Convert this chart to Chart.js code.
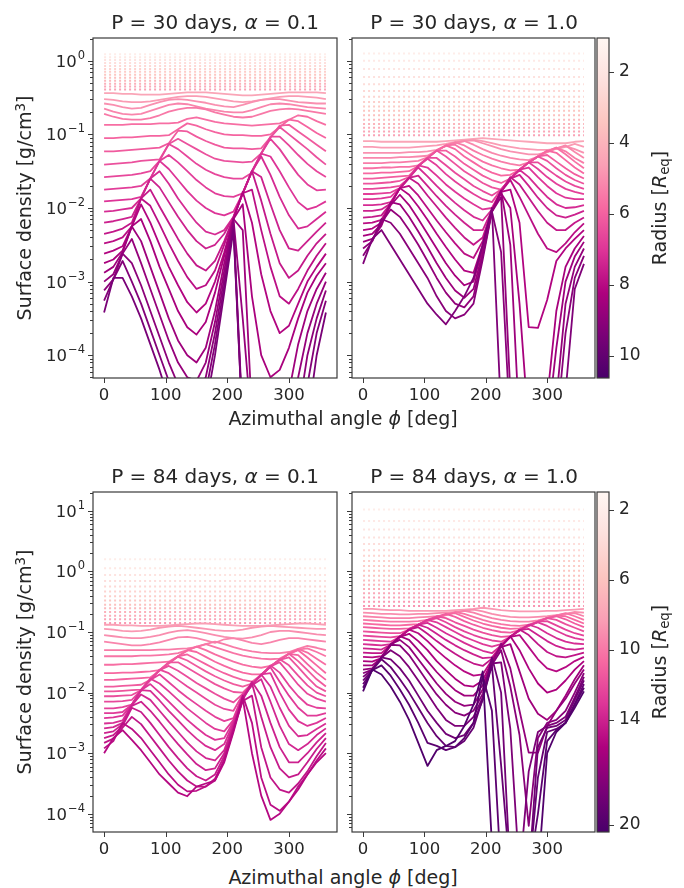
<!DOCTYPE html>
<html>
<head>
<meta charset="utf-8">
<script src="https://cdn.jsdelivr.net/npm/chart.js@4.4.1/dist/chart.umd.min.js"></script>
<style>
body { margin: 0; background: #fff; width: 684px; height: 888px; position: relative; overflow: hidden;
       font-family: 'DejaVu Sans', sans-serif; color: #262626; }
canvas { position: absolute; }
.t { position: absolute; white-space: nowrap; line-height: 1; transform: translate(-50%, -50%); }
.r { transform: translate(-50%, -50%) rotate(-90deg); }
sup { font-size: 0.7em; vertical-align: 0.45em; line-height: 0; }
sub { font-size: 0.7em; vertical-align: -0.25em; line-height: 0; }
</style>
</head>
<body>
<canvas id="tl" width="340" height="410" style="left:0;top:0"></canvas>
<canvas id="tr" width="258" height="410" style="left:340px;top:0"></canvas>
<canvas id="cbt" width="94" height="410" style="left:590px;top:0"></canvas>
<canvas id="bl" width="340" height="410" style="left:0;top:454px"></canvas>
<canvas id="br" width="258" height="410" style="left:340px;top:454px"></canvas>
<canvas id="cbb" width="94" height="410" style="left:590px;top:454px"></canvas>

<div class="t" style="left:215px;top:22px;font-size:20px">P = 30 days, <i>α</i> = 0.1</div>
<div class="t" style="left:474px;top:22px;font-size:20px">P = 30 days, <i>α</i> = 1.0</div>
<div class="t" style="left:215px;top:476px;font-size:20px">P = 84 days, <i>α</i> = 0.1</div>
<div class="t" style="left:474px;top:476px;font-size:20px">P = 84 days, <i>α</i> = 1.0</div>
<div class="t r" style="left:24px;top:208px;font-size:19px">Surface density [g/cm<sup>3</sup>]</div>
<div class="t r" style="left:24px;top:662px;font-size:19px">Surface density [g/cm<sup>3</sup>]</div>
<div class="t" style="left:343px;top:418px;font-size:19px">Azimuthal angle <i>ϕ</i> [deg]</div>
<div class="t" style="left:343px;top:877px;font-size:19px">Azimuthal angle <i>ϕ</i> [deg]</div>
<div class="t r" style="left:659px;top:208px;font-size:19px">Radius [<i>R</i><sub>eq</sub>]</div>
<div class="t r" style="left:659px;top:662px;font-size:19px">Radius [<i>R</i><sub>eq</sub>]</div>

<script>
// azimuth samples (deg)
var phi = [0,15,30,45,60,75,90,105,120,135,150,165,180,195,210,225,240,255,270,285,300,315,330,345,360];
var xTicks = [0,100,200,300];

// colour scale ranges (radius, R_eq) and their ticks
var cbTopRange = [1.04, 10.62];
var cbTopTicks = [2,4,6,8,10];
var cbBottomRange = [0.97, 20.4];
var cbBottomTicks = [2,6,10,14,20];

// ---- P = 30 d, alpha = 0.1  (log10 surface density) ----
var tlDotLevels = [0.09,0.05,0.01,-0.03,-0.07,-0.11,-0.15,-0.19,-0.23,-0.27,-0.31,-0.35,-0.39];
var tlDotRadius = [1.2,1.45,1.7,1.95,2.2,2.45,2.7,2.95,3.2,3.45,3.7,3.95,4.2];
var tlLines = [
  [-0.44,-0.44,-0.45,-0.45,-0.46,-0.46,-0.46,-0.45,-0.44,-0.43,-0.43,-0.43,-0.44,-0.45,-0.46,-0.47,-0.47,-0.46,-0.45,-0.44,-0.43,-0.43,-0.43,-0.43,-0.44],
  [-0.52,-0.53,-0.55,-0.56,-0.56,-0.55,-0.53,-0.51,-0.49,-0.48,-0.48,-0.49,-0.51,-0.53,-0.55,-0.56,-0.55,-0.53,-0.51,-0.49,-0.48,-0.48,-0.49,-0.5,-0.52],
  [-0.58,-0.6,-0.63,-0.65,-0.64,-0.6,-0.56,-0.53,-0.52,-0.53,-0.55,-0.57,-0.6,-0.62,-0.63,-0.6,-0.56,-0.53,-0.52,-0.52,-0.54,-0.56,-0.57,-0.58,-0.58],
  [-0.65,-0.69,-0.72,-0.73,-0.72,-0.68,-0.64,-0.6,-0.58,-0.59,-0.62,-0.65,-0.67,-0.69,-0.7,-0.7,-0.67,-0.63,-0.59,-0.58,-0.59,-0.61,-0.63,-0.64,-0.65],
  [-0.72,-0.76,-0.79,-0.8,-0.8,-0.78,-0.74,-0.69,-0.66,-0.64,-0.64,-0.66,-0.7,-0.73,-0.76,-0.77,-0.76,-0.72,-0.68,-0.66,-0.65,-0.66,-0.68,-0.7,-0.72],
  [-0.87,-0.87,-0.87,-0.86,-0.86,-0.86,-0.85,-0.85,-0.84,-0.79,-0.77,-0.8,-0.83,-0.85,-0.86,-0.87,-0.88,-0.87,-0.86,-0.85,-0.8,-0.74,-0.76,-0.82,-0.87],
  [-1.05,-1.05,-1.04,-1.04,-1.03,-1.02,-1.02,-1.01,-0.93,-0.85,-0.88,-0.93,-0.97,-1.0,-1.01,-1.01,-1.02,-1.02,-1.0,-0.9,-0.8,-0.82,-0.9,-0.98,-1.05],
  [-1.23,-1.23,-1.22,-1.21,-1.2,-1.19,-1.18,-1.12,-0.95,-0.96,-1.03,-1.09,-1.14,-1.18,-1.19,-1.19,-1.2,-1.19,-1.04,-0.88,-0.87,-0.96,-1.05,-1.14,-1.23],
  [-1.41,-1.4,-1.39,-1.38,-1.36,-1.35,-1.34,-1.13,-1.06,-1.13,-1.2,-1.27,-1.33,-1.36,-1.37,-1.38,-1.37,-1.26,-1.04,-0.9,-1.0,-1.1,-1.2,-1.31,-1.41],
  [-1.58,-1.57,-1.56,-1.55,-1.53,-1.5,-1.36,-1.13,-1.2,-1.3,-1.4,-1.48,-1.54,-1.58,-1.6,-1.6,-1.52,-1.26,-1.03,-1.03,-1.15,-1.28,-1.4,-1.5,-1.58],
  [-1.75,-1.74,-1.73,-1.72,-1.7,-1.6,-1.36,-1.28,-1.38,-1.5,-1.62,-1.72,-1.8,-1.84,-1.85,-1.8,-1.5,-1.26,-1.06,-1.2,-1.38,-1.55,-1.68,-1.76,-1.75],
  [-1.91,-1.9,-1.89,-1.88,-1.85,-1.6,-1.36,-1.47,-1.62,-1.77,-1.9,-2.0,-2.07,-2.1,-2.05,-1.8,-1.5,-1.26,-1.3,-1.5,-1.72,-1.92,-2.02,-1.98,-1.91],
  [-2.05,-2.04,-2.02,-2.0,-1.87,-1.6,-1.5,-1.67,-1.87,-2.04,-2.2,-2.32,-2.36,-2.3,-2.12,-1.8,-1.5,-1.3,-1.55,-1.85,-2.1,-2.28,-2.25,-2.15,-2.05],
  [-2.2,-2.18,-2.15,-2.12,-1.87,-1.6,-1.72,-1.92,-2.12,-2.3,-2.45,-2.55,-2.5,-2.35,-2.12,-1.8,-1.5,-1.58,-1.95,-2.3,-2.55,-2.58,-2.45,-2.32,-2.2],
  [-2.35,-2.32,-2.28,-2.2,-1.87,-1.75,-1.98,-2.2,-2.42,-2.62,-2.78,-2.85,-2.72,-2.45,-2.13,-1.8,-1.5,-1.9,-2.35,-2.75,-2.95,-2.85,-2.65,-2.48,-2.35],
  [-2.48,-2.45,-2.4,-2.25,-1.87,-1.97,-2.22,-2.48,-2.72,-2.94,-3.1,-3.05,-2.85,-2.5,-2.14,-1.8,-1.75,-2.3,-2.8,-3.2,-3.3,-3.1,-2.85,-2.65,-2.48],
  [-2.62,-2.58,-2.52,-2.25,-1.95,-2.2,-2.5,-2.8,-3.05,-3.28,-3.42,-3.3,-3.0,-2.6,-2.15,-1.78,-2.2,-2.9,-3.4,-3.7,-3.6,-3.3,-3.0,-2.8,-2.62],
  [-2.75,-2.7,-2.58,-2.25,-2.15,-2.45,-2.8,-3.1,-3.4,-3.62,-3.72,-3.55,-3.15,-2.65,-2.15,-1.95,-3.2,-4.0,-4.3,-4.2,-3.9,-3.5,-3.15,-2.92,-2.75],
  [-2.88,-2.8,-2.6,-2.25,-2.45,-2.8,-3.15,-3.5,-3.8,-4.0,-4.1,-3.9,-3.4,-2.75,-2.15,-2.3,-4.8,-5,-5,-5,-4.5,-3.85,-3.4,-3.1,-2.88],
  [-3.0,-2.9,-2.62,-2.42,-2.75,-3.1,-3.45,-3.8,-4.1,-4.3,-4.35,-4.1,-3.55,-2.85,-2.15,-3.5,-5,-5,-5,-5,-5,-4.3,-3.7,-3.3,-3.0],
  [-3.12,-2.97,-2.62,-2.75,-3.05,-3.4,-3.75,-4.1,-4.4,-4.6,-4.5,-4.3,-3.7,-2.95,-2.2,-4.9,-5,-5,-5,-5,-5,-4.8,-4.0,-3.5,-3.12],
  [-3.26,-2.97,-2.72,-3.0,-3.3,-3.65,-4.0,-4.35,-4.7,-4.9,-4.8,-4.5,-3.85,-3.05,-2.25,-5,-5,-5,-5,-5,-5,-5,-4.4,-3.7,-3.26],
  [-3.42,-2.95,-2.95,-3.2,-3.5,-3.85,-4.2,-4.6,-5,-5,-5,-4.7,-4.0,-3.15,-2.3,-5,-5,-5,-5,-5,-5,-5,-4.9,-4.0,-3.42]
];
var tlLineRadius = [4.45,4.7,4.95,5.2,5.45,5.7,5.92,6.14,6.36,6.58,6.8,7.02,7.24,7.46,7.68,7.9,8.12,8.34,8.56,8.78,9.0,9.22,9.44];

// ---- P = 30 d, alpha = 1.0 ----
var trDotLevels = [0.1,0.0,-0.11,-0.22,-0.32,-0.41,-0.49,-0.56,-0.62,-0.68,-0.74,-0.8,-0.86,-0.91,-0.96,-1.01];
var trDotRadius = [1.2,1.4,1.6,1.8,2.0,2.2,2.4,2.6,2.8,3.0,3.2,3.4,3.6,3.8,4.0,4.2];
var trLines = [
  [-1.09,-1.09,-1.1,-1.1,-1.1,-1.1,-1.1,-1.1,-1.1,-1.09,-1.08,-1.07,-1.06,-1.05,-1.06,-1.07,-1.08,-1.09,-1.1,-1.11,-1.12,-1.12,-1.12,-1.1,-1.09],
  [-1.17,-1.17,-1.18,-1.18,-1.18,-1.18,-1.17,-1.16,-1.15,-1.13,-1.1,-1.08,-1.07,-1.09,-1.12,-1.15,-1.17,-1.19,-1.2,-1.21,-1.21,-1.2,-1.17,-1.13,-1.17],
  [-1.25,-1.25,-1.25,-1.25,-1.25,-1.24,-1.24,-1.23,-1.21,-1.16,-1.12,-1.09,-1.08,-1.12,-1.16,-1.2,-1.23,-1.25,-1.27,-1.27,-1.24,-1.19,-1.16,-1.2,-1.25],
  [-1.32,-1.32,-1.32,-1.32,-1.31,-1.31,-1.3,-1.29,-1.22,-1.15,-1.11,-1.09,-1.14,-1.2,-1.25,-1.29,-1.32,-1.34,-1.35,-1.3,-1.24,-1.19,-1.15,-1.24,-1.32],
  [-1.39,-1.39,-1.39,-1.38,-1.38,-1.37,-1.36,-1.31,-1.22,-1.15,-1.11,-1.15,-1.22,-1.28,-1.33,-1.37,-1.4,-1.42,-1.38,-1.3,-1.23,-1.18,-1.23,-1.32,-1.39],
  [-1.46,-1.46,-1.45,-1.45,-1.44,-1.44,-1.42,-1.32,-1.22,-1.15,-1.14,-1.22,-1.3,-1.37,-1.42,-1.46,-1.49,-1.48,-1.38,-1.3,-1.23,-1.18,-1.27,-1.37,-1.46],
  [-1.53,-1.53,-1.52,-1.52,-1.51,-1.5,-1.43,-1.32,-1.22,-1.15,-1.2,-1.3,-1.38,-1.46,-1.52,-1.56,-1.55,-1.48,-1.38,-1.3,-1.22,-1.25,-1.35,-1.45,-1.53],
  [-1.6,-1.6,-1.59,-1.58,-1.57,-1.56,-1.43,-1.32,-1.22,-1.22,-1.3,-1.4,-1.48,-1.56,-1.62,-1.66,-1.6,-1.48,-1.38,-1.3,-1.28,-1.37,-1.46,-1.54,-1.6],
  [-1.67,-1.67,-1.66,-1.65,-1.63,-1.58,-1.43,-1.32,-1.22,-1.3,-1.4,-1.5,-1.58,-1.66,-1.72,-1.75,-1.6,-1.48,-1.38,-1.3,-1.36,-1.46,-1.55,-1.62,-1.67],
  [-1.74,-1.74,-1.73,-1.72,-1.7,-1.59,-1.43,-1.32,-1.32,-1.42,-1.52,-1.61,-1.7,-1.77,-1.83,-1.75,-1.6,-1.48,-1.38,-1.38,-1.47,-1.56,-1.64,-1.7,-1.74],
  [-1.81,-1.81,-1.8,-1.79,-1.73,-1.59,-1.43,-1.33,-1.42,-1.54,-1.64,-1.73,-1.81,-1.88,-1.92,-1.75,-1.6,-1.48,-1.38,-1.47,-1.58,-1.67,-1.74,-1.78,-1.81],
  [-1.88,-1.88,-1.87,-1.85,-1.73,-1.59,-1.42,-1.45,-1.56,-1.68,-1.78,-1.87,-1.95,-2.02,-2.0,-1.76,-1.6,-1.48,-1.45,-1.58,-1.7,-1.8,-1.86,-1.88,-1.88],
  [-1.96,-1.96,-1.95,-1.92,-1.73,-1.59,-1.45,-1.57,-1.7,-1.82,-1.93,-2.03,-2.12,-2.17,-2.02,-1.77,-1.6,-1.48,-1.58,-1.72,-1.85,-1.95,-2.0,-1.99,-1.96],
  [-2.04,-2.04,-2.02,-1.94,-1.73,-1.59,-1.56,-1.7,-1.84,-1.97,-2.09,-2.2,-2.3,-2.3,-2.03,-1.77,-1.6,-1.55,-1.7,-1.86,-2.0,-2.1,-2.13,-2.09,-2.04],
  [-2.13,-2.12,-2.1,-1.94,-1.73,-1.59,-1.67,-1.83,-1.98,-2.13,-2.27,-2.4,-2.5,-2.4,-2.03,-1.78,-1.58,-1.68,-1.86,-2.04,-2.2,-2.3,-2.3,-2.2,-2.13],
  [-2.21,-2.2,-2.16,-1.94,-1.73,-1.7,-1.83,-2.0,-2.17,-2.33,-2.48,-2.62,-2.68,-2.45,-2.03,-1.78,-1.62,-1.85,-2.1,-2.35,-2.55,-2.6,-2.48,-2.33,-2.21],
  [-2.3,-2.28,-2.2,-1.95,-1.73,-1.82,-1.98,-2.16,-2.35,-2.53,-2.7,-2.85,-2.88,-2.5,-2.04,-1.78,-1.75,-2.2,-3.62,-3.63,-3.25,-2.72,-2.55,-2.42,-2.3],
  [-2.38,-2.35,-2.22,-1.96,-1.82,-1.96,-2.15,-2.35,-2.55,-2.75,-2.92,-3.05,-3.0,-2.55,-2.05,-1.8,-2.0,-3.3,-5,-5,-4.6,-3.4,-2.8,-2.55,-2.38],
  [-2.46,-2.42,-2.24,-1.92,-1.95,-2.12,-2.32,-2.53,-2.75,-2.95,-3.12,-3.22,-3.1,-2.6,-2.05,-1.76,-2.5,-5,-5,-5,-5,-3.9,-3.0,-2.66,-2.46],
  [-2.55,-2.45,-2.2,-2.02,-2.12,-2.3,-2.5,-2.72,-2.95,-3.15,-3.3,-3.35,-3.2,-2.65,-2.05,-1.85,-4.5,-5,-5,-5,-5,-4.6,-3.3,-2.8,-2.55],
  [-2.65,-2.45,-2.15,-2.2,-2.35,-2.55,-2.75,-2.95,-3.2,-3.4,-3.5,-3.45,-3.3,-2.7,-2.05,-2.6,-5,-5,-5,-5,-5,-5,-3.7,-2.95,-2.65],
  [-2.76,-2.42,-2.3,-2.5,-2.7,-2.9,-3.1,-3.3,-3.45,-3.58,-3.4,-3.2,-2.95,-2.5,-2.0,-4.8,-5,-5,-5,-5,-5,-5,-4.5,-3.1,-2.76]
];
var trLineRadius = [4.45,4.7,4.93,5.16,5.39,5.62,5.85,6.08,6.31,6.54,6.77,7.0,7.23,7.46,7.69,7.92,8.15,8.38,8.61,8.84,9.07,9.3];

// ---- P = 84 d, alpha = 0.1 ----
var blDotLevels = [0.2,0.05,-0.06,-0.16,-0.25,-0.33,-0.41,-0.48,-0.55,-0.61,-0.67,-0.73,-0.79,-0.85];
var blDotRadius = [1.3,1.8,2.3,2.8,3.3,3.8,4.3,4.8,5.3,5.8,6.3,6.8,7.3,7.8];
var blLines = [
  [-0.88,-0.88,-0.89,-0.89,-0.9,-0.9,-0.9,-0.89,-0.88,-0.87,-0.86,-0.86,-0.87,-0.88,-0.89,-0.9,-0.9,-0.9,-0.89,-0.88,-0.87,-0.86,-0.86,-0.87,-0.88],
  [-0.95,-0.96,-0.98,-0.99,-0.98,-0.96,-0.93,-0.91,-0.9,-0.91,-0.93,-0.95,-0.97,-0.98,-0.98,-0.96,-0.93,-0.91,-0.9,-0.91,-0.92,-0.93,-0.94,-0.95,-0.95],
  [-1.05,-1.07,-1.09,-1.1,-1.1,-1.08,-1.05,-1.01,-0.98,-0.97,-0.99,-1.02,-1.05,-1.08,-1.1,-1.11,-1.09,-1.05,-1.0,-0.98,-0.98,-1.0,-1.02,-1.04,-1.05],
  [-1.16,-1.18,-1.2,-1.22,-1.22,-1.2,-1.17,-1.13,-1.09,-1.08,-1.1,-1.14,-1.18,-1.12,-1.1,-1.14,-1.18,-1.2,-1.17,-1.13,-1.1,-1.1,-1.12,-1.14,-1.16],
  [-1.3,-1.3,-1.3,-1.3,-1.3,-1.3,-1.29,-1.29,-1.28,-1.27,-1.25,-1.2,-1.16,-1.2,-1.25,-1.29,-1.32,-1.34,-1.35,-1.35,-1.33,-1.28,-1.23,-1.26,-1.3],
  [-1.4,-1.4,-1.4,-1.4,-1.39,-1.39,-1.38,-1.37,-1.35,-1.3,-1.24,-1.2,-1.25,-1.3,-1.35,-1.39,-1.42,-1.44,-1.45,-1.44,-1.36,-1.29,-1.27,-1.33,-1.4],
  [-1.54,-1.54,-1.53,-1.53,-1.52,-1.51,-1.5,-1.49,-1.4,-1.31,-1.24,-1.3,-1.37,-1.43,-1.49,-1.54,-1.57,-1.59,-1.56,-1.46,-1.36,-1.28,-1.34,-1.44,-1.54],
  [-1.68,-1.68,-1.67,-1.67,-1.66,-1.65,-1.63,-1.52,-1.4,-1.3,-1.33,-1.41,-1.49,-1.56,-1.62,-1.67,-1.7,-1.7,-1.57,-1.46,-1.36,-1.3,-1.42,-1.55,-1.68],
  [-1.79,-1.79,-1.78,-1.77,-1.76,-1.75,-1.64,-1.51,-1.4,-1.37,-1.45,-1.53,-1.61,-1.68,-1.74,-1.79,-1.82,-1.71,-1.57,-1.46,-1.36,-1.38,-1.53,-1.67,-1.79],
  [-1.9,-1.9,-1.89,-1.88,-1.87,-1.79,-1.63,-1.51,-1.41,-1.47,-1.56,-1.65,-1.73,-1.8,-1.86,-1.9,-1.85,-1.71,-1.57,-1.46,-1.36,-1.48,-1.63,-1.78,-1.9],
  [-1.98,-1.98,-1.97,-1.96,-1.95,-1.79,-1.63,-1.5,-1.5,-1.59,-1.68,-1.77,-1.86,-1.93,-1.99,-2.0,-1.85,-1.71,-1.57,-1.46,-1.42,-1.58,-1.75,-1.9,-1.98],
  [-2.06,-2.06,-2.05,-2.04,-1.96,-1.79,-1.63,-1.56,-1.64,-1.74,-1.84,-1.93,-2.02,-2.1,-2.16,-2.02,-1.86,-1.71,-1.57,-1.45,-1.55,-1.72,-1.88,-2.0,-2.06],
  [-2.15,-2.15,-2.14,-2.12,-1.96,-1.79,-1.62,-1.68,-1.79,-1.9,-2.0,-2.1,-2.2,-2.27,-2.3,-2.03,-1.86,-1.71,-1.57,-1.5,-1.68,-1.87,-2.02,-2.1,-2.15],
  [-2.26,-2.26,-2.24,-2.2,-1.96,-1.79,-1.7,-1.83,-1.96,-2.08,-2.19,-2.3,-2.4,-2.47,-2.42,-2.04,-1.86,-1.71,-1.55,-1.67,-1.88,-2.06,-2.2,-2.25,-2.26],
  [-2.34,-2.34,-2.32,-2.2,-1.96,-1.77,-1.85,-1.98,-2.12,-2.26,-2.38,-2.5,-2.6,-2.64,-2.45,-2.05,-1.86,-1.71,-1.58,-1.82,-2.05,-2.25,-2.38,-2.38,-2.34],
  [-2.42,-2.41,-2.38,-2.2,-1.96,-1.86,-2.0,-2.15,-2.3,-2.45,-2.58,-2.7,-2.78,-2.75,-2.47,-2.06,-1.87,-1.7,-1.68,-2.0,-2.28,-2.47,-2.55,-2.5,-2.42],
  [-2.51,-2.5,-2.46,-2.2,-1.96,-1.97,-2.13,-2.3,-2.46,-2.62,-2.76,-2.88,-2.95,-2.85,-2.5,-2.07,-1.87,-1.7,-1.9,-2.25,-2.55,-2.72,-2.7,-2.6,-2.51],
  [-2.59,-2.57,-2.5,-2.21,-2.03,-2.12,-2.3,-2.48,-2.65,-2.82,-2.97,-3.08,-3.12,-2.95,-2.53,-2.08,-1.88,-1.78,-2.15,-2.55,-2.85,-2.95,-2.85,-2.7,-2.59],
  [-2.67,-2.64,-2.52,-2.22,-2.15,-2.3,-2.48,-2.67,-2.85,-3.02,-3.18,-3.28,-3.25,-3.0,-2.55,-2.1,-1.82,-2.05,-2.5,-2.9,-3.15,-3.15,-3.0,-2.82,-2.67],
  [-2.75,-2.7,-2.55,-2.25,-2.32,-2.5,-2.7,-2.9,-3.08,-3.25,-3.38,-3.45,-3.35,-3.05,-2.58,-2.12,-1.85,-2.4,-2.9,-3.25,-3.4,-3.35,-3.15,-2.93,-2.75],
  [-2.83,-2.76,-2.58,-2.4,-2.52,-2.72,-2.92,-3.12,-3.3,-3.45,-3.55,-3.55,-3.42,-3.1,-2.6,-2.14,-2.05,-2.9,-3.4,-3.6,-3.65,-3.5,-3.3,-3.05,-2.83],
  [-2.92,-2.8,-2.5,-2.6,-2.75,-2.95,-3.15,-3.35,-3.52,-3.63,-3.62,-3.55,-3.45,-3.12,-2.62,-2.05,-2.5,-3.4,-3.85,-3.95,-3.8,-3.55,-3.35,-3.12,-2.92],
  [-3.0,-2.75,-2.62,-2.78,-2.95,-3.15,-3.35,-3.5,-3.65,-3.71,-3.55,-3.5,-3.45,-3.15,-2.65,-2.1,-3.0,-3.7,-4.1,-4.0,-3.8,-3.6,-3.35,-3.15,-3.0]
];
var blLineRadius = [8.2,8.6,9.0,9.4,9.8,10.1,10.4,10.7,11.0,11.3,11.6,11.9,12.2,12.5,12.8,13.1,13.4,13.7,14.0,14.3,14.6,14.9,15.2];

// ---- P = 84 d, alpha = 1.0 ----
var brDotLevels = [1.02,0.83,0.69,0.56,0.45,0.35,0.26,0.17,0.09,0.01,-0.07,-0.15,-0.22,-0.29,-0.36,-0.43,-0.5,-0.57];
var brDotRadius = [1.3,1.7,2.1,2.5,2.9,3.3,3.7,4.1,4.5,4.9,5.3,5.7,6.1,6.5,6.9,7.3,7.7,8.1];
var brLines = [
  [-0.62,-0.62,-0.63,-0.64,-0.64,-0.65,-0.65,-0.65,-0.65,-0.65,-0.64,-0.63,-0.62,-0.6,-0.62,-0.64,-0.65,-0.66,-0.66,-0.66,-0.65,-0.65,-0.64,-0.63,-0.62],
  [-0.68,-0.69,-0.7,-0.7,-0.71,-0.71,-0.7,-0.7,-0.69,-0.68,-0.67,-0.65,-0.63,-0.66,-0.7,-0.73,-0.75,-0.76,-0.76,-0.75,-0.74,-0.72,-0.7,-0.67,-0.68],
  [-0.74,-0.75,-0.76,-0.77,-0.77,-0.77,-0.76,-0.75,-0.74,-0.72,-0.68,-0.65,-0.68,-0.73,-0.77,-0.8,-0.82,-0.83,-0.83,-0.81,-0.77,-0.73,-0.7,-0.69,-0.74],
  [-0.8,-0.81,-0.82,-0.83,-0.83,-0.83,-0.82,-0.8,-0.77,-0.72,-0.67,-0.7,-0.75,-0.8,-0.84,-0.87,-0.89,-0.9,-0.88,-0.83,-0.77,-0.73,-0.69,-0.74,-0.8],
  [-0.86,-0.87,-0.88,-0.89,-0.89,-0.88,-0.87,-0.82,-0.76,-0.71,-0.69,-0.75,-0.81,-0.86,-0.9,-0.93,-0.95,-0.94,-0.89,-0.83,-0.77,-0.73,-0.74,-0.8,-0.86],
  [-0.92,-0.93,-0.94,-0.95,-0.95,-0.94,-0.89,-0.81,-0.75,-0.7,-0.75,-0.82,-0.88,-0.93,-0.97,-1.0,-1.01,-0.97,-0.9,-0.83,-0.77,-0.74,-0.79,-0.86,-0.92],
  [-0.99,-1.0,-1.01,-1.02,-1.02,-0.96,-0.88,-0.8,-0.74,-0.77,-0.84,-0.9,-0.96,-1.01,-1.05,-1.08,-1.07,-0.98,-0.9,-0.83,-0.77,-0.8,-0.87,-0.93,-0.99],
  [-1.06,-1.07,-1.08,-1.09,-1.07,-0.96,-0.88,-0.8,-0.77,-0.84,-0.92,-0.99,-1.05,-1.1,-1.14,-1.16,-1.08,-0.97,-0.89,-0.83,-0.82,-0.89,-0.96,-1.02,-1.06],
  [-1.13,-1.14,-1.15,-1.16,-1.08,-0.96,-0.88,-0.8,-0.84,-0.92,-1.0,-1.08,-1.14,-1.2,-1.24,-1.2,-1.08,-0.97,-0.89,-0.84,-0.9,-0.98,-1.05,-1.1,-1.13],
  [-1.2,-1.21,-1.22,-1.2,-1.08,-0.96,-0.88,-0.85,-0.93,-1.02,-1.1,-1.18,-1.25,-1.31,-1.35,-1.22,-1.08,-0.97,-0.88,-0.93,-1.02,-1.1,-1.16,-1.19,-1.2],
  [-1.27,-1.28,-1.29,-1.21,-1.08,-0.96,-0.88,-0.93,-1.03,-1.13,-1.22,-1.3,-1.37,-1.43,-1.42,-1.22,-1.08,-0.97,-0.95,-1.05,-1.15,-1.23,-1.28,-1.29,-1.27],
  [-1.34,-1.35,-1.35,-1.21,-1.08,-0.96,-0.92,-1.03,-1.15,-1.26,-1.36,-1.45,-1.52,-1.56,-1.44,-1.23,-1.08,-0.96,-1.05,-1.2,-1.33,-1.4,-1.42,-1.38,-1.34],
  [-1.41,-1.42,-1.4,-1.22,-1.08,-0.96,-1.02,-1.15,-1.3,-1.43,-1.55,-1.65,-1.72,-1.7,-1.46,-1.24,-1.08,-1.05,-1.25,-1.45,-1.6,-1.65,-1.58,-1.48,-1.41],
  [-1.48,-1.49,-1.43,-1.22,-1.08,-1.03,-1.15,-1.3,-1.48,-1.63,-1.77,-1.88,-1.9,-1.8,-1.48,-1.24,-1.07,-1.3,-1.6,-1.85,-2.0,-1.95,-1.8,-1.62,-1.48],
  [-1.55,-1.55,-1.43,-1.22,-1.07,-1.13,-1.3,-1.48,-1.66,-1.82,-1.96,-2.05,-2.05,-1.88,-1.5,-1.25,-1.2,-1.65,-2.1,-2.35,-2.45,-2.3,-2.05,-1.78,-1.55],
  [-1.62,-1.6,-1.42,-1.2,-1.13,-1.25,-1.45,-1.65,-1.85,-2.02,-2.15,-2.22,-2.2,-1.95,-1.52,-1.19,-1.6,-2.3,-2.99,-2.99,-2.55,-2.3,-2.1,-1.85,-1.62],
  [-1.68,-1.62,-1.42,-1.21,-1.22,-1.38,-1.6,-1.82,-2.03,-2.2,-2.33,-2.38,-2.3,-2.02,-1.54,-1.3,-1.9,-2.7,-4.2,-2.75,-2.5,-2.45,-2.3,-2.0,-1.68],
  [-1.74,-1.62,-1.42,-1.3,-1.4,-1.58,-1.8,-2.02,-2.25,-2.45,-2.55,-2.55,-2.4,-2.08,-1.52,-1.5,-2.6,-5,-3.3,-2.65,-2.55,-2.5,-2.4,-2.08,-1.74],
  [-1.8,-1.63,-1.42,-1.45,-1.6,-1.8,-2.05,-2.3,-2.5,-2.68,-2.75,-2.7,-2.5,-2.12,-1.42,-2.0,-5,-5,-5,-2.9,-2.58,-2.55,-2.45,-2.12,-1.8],
  [-1.86,-1.63,-1.45,-1.58,-1.78,-2.0,-2.25,-2.5,-2.72,-2.88,-2.9,-2.8,-2.58,-2.1,-1.55,-3.2,-5,-5,-5,-3.4,-2.65,-2.6,-2.5,-2.18,-1.86],
  [-1.92,-1.63,-1.55,-1.72,-1.95,-2.2,-2.5,-2.83,-2.88,-2.95,-2.9,-2.75,-2.5,-1.72,-2.3,-5,-5,-5,-5,-4.0,-2.8,-2.62,-2.5,-2.2,-1.92],
  [-1.98,-1.62,-1.7,-1.9,-2.15,-2.45,-2.83,-3.21,-2.95,-2.88,-2.8,-2.55,-2.2,-1.65,-4.5,-5,-5,-5,-5,-5,-3.0,-2.65,-2.5,-2.25,-1.98]
];
var brLineRadius = [8.5,9.05,9.6,10.15,10.7,11.25,11.8,12.35,12.9,13.45,14.0,14.55,15.1,15.65,16.2,16.75,17.3,17.85,18.4,18.95,19.5,20.0];

// --------------------------------------------------------------
var TXT = '#262626';
var AXC = '#3a3a3a';
var FAMILY = "'DejaVu Sans', sans-serif";
var FONT = {family: FAMILY, size: 16.5};
var rdpu = ['#fff7f3','#fde0dd','#fcc5c0','#fa9fb5','#f768a1','#dd3497','#ae017e','#7a0177','#49006a'];

function hexRgb(h) {
    return [parseInt(h.substr(1,2),16), parseInt(h.substr(3,2),16), parseInt(h.substr(5,2),16)];
}
function cmap(t) {
    t = Math.max(0, Math.min(1, t));
    var s = t * 8, i = Math.min(7, Math.floor(s)), f = s - i;
    var a = hexRgb(rdpu[i]), b = hexRgb(rdpu[i+1]);
    return 'rgb(' + Math.round(a[0]+(b[0]-a[0])*f) + ',' + Math.round(a[1]+(b[1]-a[1])*f) + ',' + Math.round(a[2]+(b[2]-a[2])*f) + ')';
}
function logTicks(lo, hi) {
    var out = [];
    for (var e = -6; e <= 2; e++) {
        for (var k = 1; k <= 9; k++) {
            var v = k * Math.pow(10, e);
            if (v >= lo && v <= hi) out.push({value: v, major: k === 1});
        }
    }
    return out;
}

// spines, tick marks and 10^n labels
var frame = {
    id: 'frame',
    afterDraw: function (c, args, opts) {
        var ctx = c.ctx, a = c.chartArea, ys = c.scales.y;
        ctx.save();
        ctx.strokeStyle = AXC;
        ctx.lineWidth = 1;
        ctx.beginPath();
        ys.ticks.forEach(function (t) {
            var p = Math.round(ys.getPixelForValue(t.value)) + 0.5;
            ctx.moveTo(a.left, p);
            ctx.lineTo(a.left - (t.major ? 5 : 3), p);
        });
        c.scales.x.ticks.forEach(function (t) {
            var p = Math.round(c.scales.x.getPixelForValue(t.value)) + 0.5;
            ctx.moveTo(p, a.bottom);
            ctx.lineTo(p, a.bottom + 5);
        });
        ctx.stroke();
        ctx.lineWidth = 1.2;
        ctx.strokeRect(a.left, a.top, a.right - a.left, a.bottom - a.top);

        if (opts.labels) {
            ctx.fillStyle = TXT;
            ctx.textAlign = 'left';
            ctx.textBaseline = 'alphabetic';
            ys.ticks.forEach(function (t) {
                if (!t.major) return;
                var e = Math.round(Math.log10(t.value));
                var ex = e < 0 ? '\u2212' + (-e) : String(e);
                var y = ys.getPixelForValue(t.value);
                ctx.font = '11.5px ' + FAMILY;
                var w2 = ctx.measureText(ex).width;
                ctx.font = '16.5px ' + FAMILY;
                var w1 = ctx.measureText('10').width;
                var x0 = a.left - 8 - w2 - w1 - 1;
                ctx.fillText('10', x0, y + 6);
                ctx.font = '11.5px ' + FAMILY;
                ctx.fillText(ex, x0 + w1 + 1, y - 2);
            });
        }
        ctx.restore();
    }
};

function makePanel(id, dotLevels, dotR, lines, lineR, rng, ylim, showY) {
    var ds = [];
    var frac = function (r) { return (r - rng[0]) / (rng[1] - rng[0]); };
    dotLevels.forEach(function (v, i) {
        ds.push({
            data: [{x: 0, y: Math.pow(10, v)}, {x: 360, y: Math.pow(10, v)}],
            borderColor: cmap(frac(dotR[i]) + 0.04), borderWidth: 2, borderDash: [2, 3]
        });
    });
    lines.forEach(function (l, i) {
        ds.push({
            data: l.map(function (v, j) { return {x: phi[j], y: Math.pow(10, v)}; }),
            borderColor: cmap(frac(lineR[i])), borderWidth: 1.8
        });
    });
    ds.reverse(); // outermost radii drawn on top

    new Chart(document.getElementById(id), {
        type: 'line',
        data: {datasets: ds},
        options: {
            responsive: false, animation: false, devicePixelRatio: 1, events: [],
            layout: {padding: {left: 0, top: 38, right: 3, bottom: 0}},
            plugins: {legend: {display: false}, tooltip: {enabled: false}, frame: {labels: showY}},
            elements: {line: {tension: 0, borderJoinStyle: 'round', borderCapStyle: 'butt'}, point: {radius: 0}},
            scales: {
                x: {
                    type: 'linear', min: -18, max: 378, bounds: 'data',
                    grid: {display: false, drawTicks: false}, border: {display: false},
                    afterBuildTicks: function (s) { s.ticks = xTicks.map(function (v) { return {value: v}; }); },
                    afterFit: function (s) { s.height = 32; },
                    ticks: {padding: 8, autoSkip: false, maxRotation: 0, color: TXT, font: FONT,
                            callback: function (v) { return String(v); }}
                },
                y: {
                    type: 'logarithmic', min: Math.pow(10, ylim[0]), max: Math.pow(10, ylim[1]), bounds: 'data',
                    grid: {display: false, drawTicks: false}, border: {display: false},
                    afterBuildTicks: function (s) { s.ticks = logTicks(s.min, s.max); },
                    afterFit: function (s) { s.width = showY ? 93 : 12; },
                    ticks: {display: false}
                }
            }
        },
        plugins: [frame]
    });
}

var cbar = {
    id: 'cbar',
    beforeDraw: function (c) {
        var ctx = c.ctx, a = c.chartArea;
        var g = ctx.createLinearGradient(0, a.top, 0, a.bottom);
        rdpu.forEach(function (col, i) { g.addColorStop(i / 8, col); });
        ctx.save();
        ctx.fillStyle = g;
        ctx.fillRect(a.left, a.top, a.right - a.left, a.bottom - a.top);
        ctx.strokeStyle = AXC;
        ctx.lineWidth = 1;
        ctx.beginPath();
        c.scales.y.ticks.forEach(function (t) {
            var p = Math.round(c.scales.y.getPixelForValue(t.value)) + 0.5;
            ctx.moveTo(a.right, p);
            ctx.lineTo(a.right + 5, p);
        });
        ctx.stroke();
        ctx.lineWidth = 1.2;
        ctx.strokeRect(a.left, a.top, a.right - a.left, a.bottom - a.top);
        ctx.restore();
    }
};

function makeColorbar(id, rng, ticks) {
    new Chart(document.getElementById(id), {
        type: 'line',
        data: {datasets: []},
        options: {
            responsive: false, animation: false, devicePixelRatio: 1, events: [],
            layout: {padding: {left: 7, top: 38, right: 0, bottom: 32}},
            plugins: {legend: {display: false}, tooltip: {enabled: false}},
            scales: {
                x: {type: 'linear', display: false, min: 0, max: 1},
                y: {
                    type: 'linear', position: 'right', reverse: true, min: rng[0], max: rng[1], bounds: 'data',
                    grid: {display: false, drawTicks: false}, border: {display: false},
                    afterBuildTicks: function (s) { s.ticks = ticks.map(function (v) { return {value: v}; }); },
                    afterFit: function (s) { s.width = 75; },
                    ticks: {padding: 10, autoSkip: false, color: TXT, font: {family: FAMILY, size: 17},
                            callback: function (v) { return String(v); }}
                }
            }
        },
        plugins: [cbar]
    });
}

makePanel('tl', tlDotLevels, tlDotRadius, tlLines, tlLineRadius, cbTopRange, [-4.31, 0.31], true);
makePanel('tr', trDotLevels, trDotRadius, trLines, trLineRadius, cbTopRange, [-4.31, 0.31], false);
makePanel('bl', blDotLevels, blDotRadius, blLines, blLineRadius, cbBottomRange, [-4.3, 1.31], true);
makePanel('br', brDotLevels, brDotRadius, brLines, brLineRadius, cbBottomRange, [-4.3, 1.31], false);
makeColorbar('cbt', cbTopRange, cbTopTicks);
makeColorbar('cbb', cbBottomRange, cbBottomTicks);
</script>
</body>
</html>
